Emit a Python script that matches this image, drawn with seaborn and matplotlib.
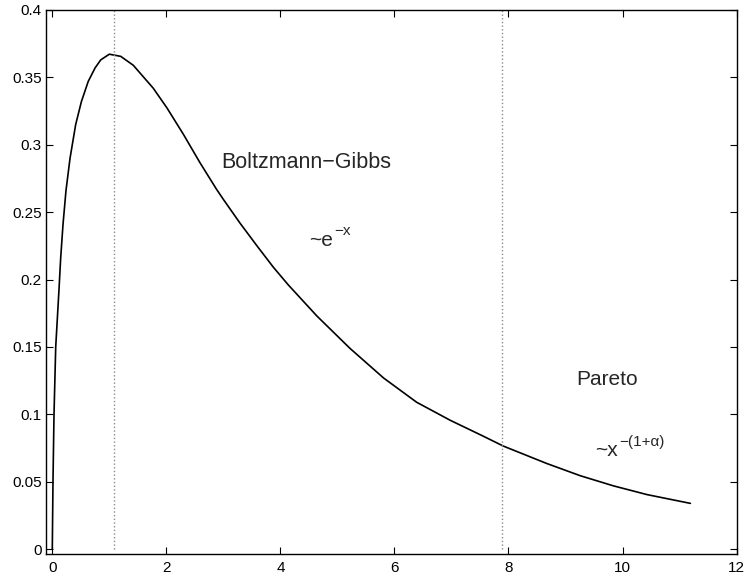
import matplotlib
matplotlib.use("Agg")
import matplotlib.pyplot as plt
import seaborn as sns
import pandas as pd

# Curve values
x_vals = [0.0, 0.012, 0.03, 0.06, 0.118, 0.147, 0.188, 0.24, 0.311, 0.41, 0.51,
          0.63, 0.75, 0.85, 1.0, 1.2, 1.42, 1.77, 2.01, 2.30, 2.59, 2.88,
          3.0, 3.29, 3.59, 3.88, 4.14, 4.64, 5.22, 5.81, 6.39, 6.98, 7.56, 7.91,
          8.67, 9.26, 9.84, 10.43, 11.19]
y_vals = [0.0, 0.05, 0.1, 0.15, 0.193, 0.216, 0.241, 0.266, 0.29, 0.315, 0.332,
          0.347, 0.357, 0.363, 0.3672, 0.3656, 0.359, 0.342, 0.3274,
          0.3077, 0.2867, 0.267, 0.2595, 0.242, 0.225, 0.209, 0.196, 0.173, 0.149,
          0.127, 0.109, 0.0956, 0.0838, 0.0765, 0.0636, 0.0545, 0.047, 0.0405,
          0.034]
vlines_x = [1.08, 7.88]
x_ticks = [0, 2, 4, 6, 8, 10, 12]
y_ticks = [0, 0.05, 0.1, 0.15, 0.2, 0.25, 0.3, 0.35, 0.4]
y_tick_labels = ["0", "0.05", "0.1", "0.15", "0.2", "0.25", "0.3", "0.35", "0.4"]

sns.set_style("ticks")
plt.rcParams["font.family"] = ["Liberation Sans", "DejaVu Sans"]

fig = plt.figure(figsize=(7.44, 5.77), dpi=100)
ax = fig.add_axes([0.0614, 0.040, 0.9286, 0.9427])

df = pd.DataFrame({"x": x_vals, "y": y_vals})
sns.lineplot(data=df, x="x", y="y", ax=ax, color="black", linewidth=1.2,
             estimator=None)

for vx in vlines_x:
    ax.plot([vx, vx], [0, 0.4], color="#8a8a8a", linestyle=":", linewidth=1.0)

ax.set_xlim(-0.116, 12)
ax.set_ylim(-0.0035, 0.4)
ax.set_xticks(x_ticks)
ax.set_xticklabels([str(t) for t in x_ticks])
ax.set_yticks(y_ticks)
ax.set_yticklabels(y_tick_labels)
ax.set_xlabel("")
ax.set_ylabel("")
ax.tick_params(direction="in", top=True, right=True, length=5, width=0.8,
               labelsize=11, colors="black")
ax.tick_params(axis="y", pad=3)
ax.tick_params(axis="x", pad=5)
for s in ax.spines.values():
    s.set_linewidth(1.0)
    s.set_color("black")

BASE = 15
SUP = 11

ax.text(2.96, 0.283, "Boltzmann\u2212Gibbs", fontsize=15.5, va="baseline", ha="left")
ax.text(9.19, 0.1215, "Pareto", fontsize=BASE, va="baseline", ha="left")

t1 = ax.text(4.5, 0.225, "~e", fontsize=BASE, va="baseline", ha="left")
t2 = ax.text(9.52, 0.069, "~x", fontsize=BASE, va="baseline", ha="left")
fig.canvas.draw()
r = fig.canvas.get_renderer()
for t, sup, raise_px in [(t1, "\u2212x", 11), (t2, "\u2212(1+\u03b1)", 10)]:
    bb = t.get_window_extent(renderer=r)
    x0, y0 = t.get_position()
    yb = ax.transData.transform((x0, y0))[1]
    ax.annotate(sup, xy=(bb.x1 + 1, yb + raise_px), xycoords="figure pixels",
                fontsize=SUP, va="baseline", ha="left")

fig.savefig("out.png", dpi=100)
